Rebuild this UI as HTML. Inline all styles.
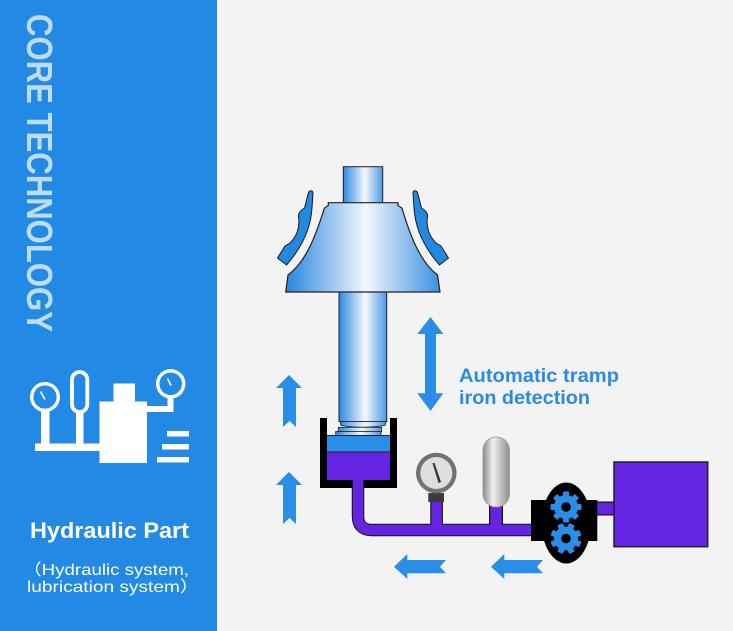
<!DOCTYPE html>
<html><head><meta charset="utf-8"><style>
html,body{margin:0;padding:0;background:#f3f3f3;}
svg{display:block;}
</style></head><body>
<svg width="733" height="631" viewBox="0 0 733 631" xmlns="http://www.w3.org/2000/svg">
<defs>
<linearGradient id="gShaft" x1="0" x2="1" y1="0" y2="0">
<stop offset="0" stop-color="#2d89e2"/><stop offset="0.55" stop-color="#f4f8fd"/><stop offset="1" stop-color="#4c98e4"/>
</linearGradient>
<linearGradient id="gCone" x1="0" x2="1" y1="0" y2="0">
<stop offset="0" stop-color="#2686e0"/><stop offset="0.52" stop-color="#f3f7fc"/><stop offset="1" stop-color="#3a90e2"/>
</linearGradient>
<linearGradient id="gAcc" x1="0" x2="1" y1="0" y2="0">
<stop offset="0" stop-color="#8a8a8a"/><stop offset="0.38" stop-color="#f0f0f0"/><stop offset="1" stop-color="#8e8e8e"/>
</linearGradient>
</defs>
<rect width="733" height="631" fill="#f3f3f3"/>
<rect width="217" height="631" fill="#228ae4"/>
<rect x="217" width="1.5" height="631" fill="#fdfdfd"/>

<!-- vertical title -->
<text transform="translate(27,14) rotate(90)" font-family="Liberation Sans, sans-serif" font-weight="bold" font-size="36" fill="#bddcf2" textLength="318" lengthAdjust="spacingAndGlyphs">CORE TECHNOLOGY</text>

<!-- sidebar icon -->
<g fill="#ffffff">
<rect x="41" y="409" width="8.5" height="38"/>
<rect x="76" y="411" width="7.5" height="36"/>
<rect x="35" y="443.5" width="66" height="7.5"/>
<rect x="99.5" y="401.5" width="47.5" height="61.5"/>
<rect x="113.5" y="383.5" width="21.5" height="19"/>
<rect x="146" y="406" width="27.5" height="6"/>
<rect x="167.5" y="396" width="6" height="15"/>
<rect x="167" y="431" width="22" height="5.5"/>
<rect x="162" y="444" width="27" height="5.5"/>
<rect x="157" y="457" width="32" height="5.5"/>
</g>
<circle cx="45" cy="397" r="13.3" fill="#228ae4" stroke="#fff" stroke-width="3.4"/>
<line x1="40.5" y1="391.5" x2="45" y2="399.5" stroke="#fff" stroke-width="1.6"/>
<rect x="72" y="372" width="15.3" height="40" rx="7.6" fill="#228ae4" stroke="#fff" stroke-width="3.8"/>
<circle cx="170.7" cy="383.8" r="13" fill="#228ae4" stroke="#fff" stroke-width="3.4"/>
<line x1="167.5" y1="378.5" x2="171" y2="385.5" stroke="#fff" stroke-width="1.6"/>

<text x="30" y="538" font-family="Liberation Sans, sans-serif" font-weight="bold" font-size="22" fill="#fff" textLength="159" lengthAdjust="spacingAndGlyphs">Hydraulic Part</text>
<text x="23" y="575" font-family="Liberation Sans, 'Noto Sans CJK SC', sans-serif" font-size="16" fill="#fff" textLength="166" lengthAdjust="spacingAndGlyphs">（Hydraulic system,</text>
<text x="27" y="592" font-family="Liberation Sans, 'Noto Sans CJK SC', sans-serif" font-size="16" fill="#fff" textLength="172" lengthAdjust="spacingAndGlyphs">lubrication system）</text>

<!-- top shaft -->
<rect x="343.3" y="166.7" width="39.4" height="37" fill="url(#gShaft)" stroke="#222" stroke-width="1"/>
<!-- lower shaft -->
<rect x="339" y="290" width="47.7" height="131.5" fill="url(#gShaft)" stroke="#222" stroke-width="1"/>
<!-- cone -->
<path d="M328.3,202.7 L398,202.7 L398,205.5 L402,208.3 C410,235 420,262 437.5,275 L440,292 L285.7,292 L288,275 C306,262 316,235 324.3,208.3 L328.3,205.5 Z" fill="url(#gCone)" stroke="#222" stroke-width="1.2"/>
<!-- liners -->
<g id="liner">
<path d="M309,191.5 Q312,189.5 313,192.5 L312,208 C311,225 304,245 286.5,265 L277.5,258 L285,246 L290,243 C293,240 296,236 297.5,231 C299,226 299.5,222 298.5,217 C298,213 301,210 304.5,208 C306,203 307,197 309,191.5 Z" fill="#2288e2" stroke="#1a1a1a" stroke-width="1"/>
</g>
<path transform="translate(726,0) scale(-1,1)" d="M309,191.5 Q312,189.5 313,192.5 L312,208 C311,225 304,245 286.5,265 L277.5,258 L285,246 L290,243 C293,240 296,236 297.5,231 C299,226 299.5,222 298.5,217 C298,213 301,210 304.5,208 C306,203 307,197 309,191.5 Z" fill="#2288e2" stroke="#1a1a1a" stroke-width="1"/>

<!-- shaft end rings -->
<path d="M340,421.5 L386,421.5 L385,425.5 Q362,429 341,425.5 Z" fill="url(#gShaft)" stroke="#222" stroke-width="0.8"/>
<rect x="338.3" y="427.3" width="43.4" height="4.4" fill="url(#gShaft)" stroke="#222" stroke-width="0.8"/>
<rect x="335.7" y="431.5" width="45.3" height="4" fill="url(#gShaft)" stroke="#222" stroke-width="0.8"/>

<!-- cylinder -->
<path d="M320,418 H327 V480 H390 V418 H397 V488 H320 Z" fill="#000"/>
<rect x="327" y="435.5" width="63" height="16.5" fill="#2a8de6"/>
<rect x="327" y="452" width="63" height="28" fill="#6524e1"/>
<line x1="327" y1="435.5" x2="390" y2="435.5" stroke="#222" stroke-width="1"/>
<line x1="327" y1="452" x2="390" y2="452" stroke="#222" stroke-width="1"/>

<!-- pipes outlines -->
<path d="M358,481 V516 Q358,530 372,530 H534" fill="none" stroke="#111" stroke-width="12.5"/>
<rect x="430.3" y="501" width="12.6" height="25" fill="#111"/>
<rect x="489" y="505" width="14" height="21" fill="#111"/>
<rect x="596" y="501.5" width="19" height="14" fill="#111"/>
<!-- pipes fill -->
<path d="M358,479 V516 Q358,530 372,530 H534" fill="none" stroke="#6524e1" stroke-width="10.5"/>
<rect x="431.4" y="501" width="10.4" height="29" fill="#6524e1"/>
<rect x="490.2" y="505" width="11.6" height="25" fill="#6524e1"/>
<rect x="596" y="502.7" width="19" height="11.6" fill="#6524e1"/>

<!-- gauge -->
<rect x="428.3" y="493" width="15.7" height="9" fill="#3c3c3c"/>
<circle cx="436.3" cy="473" r="20.3" fill="#727272"/>
<circle cx="436.3" cy="473" r="16" fill="#dedede"/>
<polygon points="432.5,463 434.5,463 441,482 438.5,483" fill="#333"/>

<!-- accumulator -->
<rect x="483" y="437" width="26.5" height="70" rx="13" fill="url(#gAcc)" stroke="#9a9a9a" stroke-width="0.8"/>

<!-- tank -->
<rect x="614" y="462" width="93.7" height="84.7" fill="#6524e1" stroke="#222" stroke-width="1.5"/>

<!-- pump -->
<rect x="531" y="500" width="66.3" height="41" fill="#000"/>
<ellipse cx="566.3" cy="523" rx="24.7" ry="40.5" fill="#000"/>
<g fill="#2a8de6">
<circle cx="566" cy="507" r="12"/>
<g>
<rect x="563" y="491.5" width="6" height="6" rx="1" transform="rotate(0 566 507)"/>
<rect x="563" y="491.5" width="6" height="6" rx="1" transform="rotate(45 566 507)"/>
<rect x="563" y="491.5" width="6" height="6" rx="1" transform="rotate(90 566 507)"/>
<rect x="563" y="491.5" width="6" height="6" rx="1" transform="rotate(135 566 507)"/>
<rect x="563" y="491.5" width="6" height="6" rx="1" transform="rotate(180 566 507)"/>
<rect x="563" y="491.5" width="6" height="6" rx="1" transform="rotate(225 566 507)"/>
<rect x="563" y="491.5" width="6" height="6" rx="1" transform="rotate(270 566 507)"/>
<rect x="563" y="491.5" width="6" height="6" rx="1" transform="rotate(315 566 507)"/>
</g>
<circle cx="566" cy="538.5" r="12"/>
<g>
<rect x="563" y="523" width="6" height="6" rx="1" transform="rotate(22.5 566 538.5)"/>
<rect x="563" y="523" width="6" height="6" rx="1" transform="rotate(67.5 566 538.5)"/>
<rect x="563" y="523" width="6" height="6" rx="1" transform="rotate(112.5 566 538.5)"/>
<rect x="563" y="523" width="6" height="6" rx="1" transform="rotate(157.5 566 538.5)"/>
<rect x="563" y="523" width="6" height="6" rx="1" transform="rotate(202.5 566 538.5)"/>
<rect x="563" y="523" width="6" height="6" rx="1" transform="rotate(247.5 566 538.5)"/>
<rect x="563" y="523" width="6" height="6" rx="1" transform="rotate(292.5 566 538.5)"/>
<rect x="563" y="523" width="6" height="6" rx="1" transform="rotate(337.5 566 538.5)"/>
</g>
</g>
<circle cx="566" cy="507" r="4.8" fill="#000"/>
<circle cx="566" cy="538.5" r="4.8" fill="#000"/>

<!-- arrows -->
<g fill="#2a8ee8">
<path d="M289,375 L302,388 L296,388 L296,427 L289.5,421 L283,427 L283,388 L276,388 Z"/>
<path d="M289,472 L302,485 L296,485 L296,524 L289.5,518 L283,524 L283,485 L276,485 Z"/>
<path d="M430.5,317 L443.3,334 L436,334 L436,393.3 L443.3,393.3 L430.5,411 L417.3,393.3 L425,393.3 L425,334 L417.3,334 Z"/>
<path d="M394,566.7 L407.3,554 L407.3,560 L446,560 L440,566.7 L446,573.3 L407.3,573.3 L407.3,579 Z"/>
<path d="M491,566.7 L504.3,554 L504.3,560 L543,560 L537,566.7 L543,573.3 L504.3,573.3 L504.3,579 Z"/>
</g>

<text x="459" y="382" font-family="Liberation Sans, sans-serif" font-weight="bold" font-size="19.5" fill="#2a8be6" textLength="160" lengthAdjust="spacingAndGlyphs">Automatic tramp</text>
<text x="459" y="404" font-family="Liberation Sans, sans-serif" font-weight="bold" font-size="19.5" fill="#2a8be6" textLength="131" lengthAdjust="spacingAndGlyphs">iron detection</text>
</svg>
</body></html>
